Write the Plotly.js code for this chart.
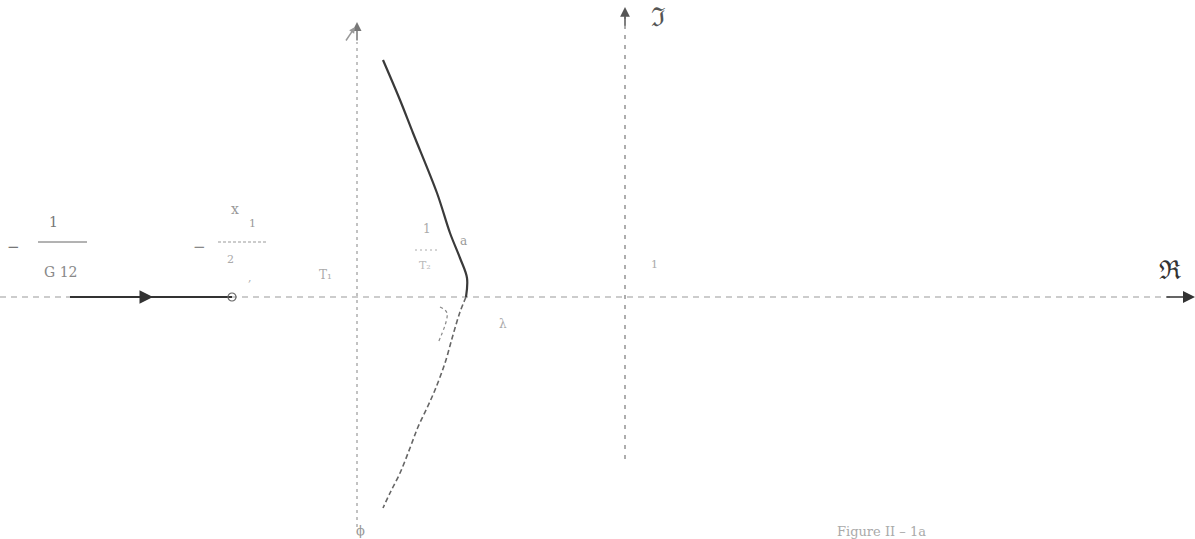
<!DOCTYPE html>
<html>
<head>
<meta charset="utf-8">
<script src="https://cdn.plot.ly/plotly-3.0.1.min.js"></script>
<style>html,body{margin:0;padding:0;background:#fff}#chart{width:1195px;height:539px}</style>
</head>
<body>
<div id="chart"></div>
<script>
// Nyquist-type locus (Re, Im units)
const upperRe = [-2.42, -2.25, -2.12, -1.88, -1.75, -1.65, -1.58, -1.59];
const upperIm = [ 2.37,  1.97,  1.64,  1.04,  0.64,  0.39,  0.19,  0.00];
const lowerRe = [-1.59, -1.65, -1.72, -1.80, -1.90, -1.98, -2.07, -2.15, -2.25, -2.35, -2.42];
const lowerIm = [ 0.00, -0.15, -0.38, -0.66, -0.93, -1.11, -1.30, -1.51, -1.76, -1.96, -2.11];
const innerRe = [-1.85, -1.78, -1.87];
const innerIm = [-0.10, -0.16, -0.46];
// axes and construction lines
const realAxisRe = [-6.25, 5.45];
const realAxisIm = [0, 0];
const imagAxisRe = [0, 0];
const imagAxisIm = [-1.62, 2.80];
const asymRe = [-2.68, -2.68];
const asymIm = [-2.30, 2.55];
const segRe = [-5.55, -3.93];
const segIm = [0, 0];
const pointRe = [-3.93];
const pointIm = [0];
// fraction bars of the labels
const bar1Re = [-5.87, -5.38];
const bar2Re = [-4.07, -3.57];
const bar3Re = [-2.10, -1.88];
const barIm = [0.55, 0.55, 0.47];

const ink = '#444';
const faint = '#9a9a9a';

const traces = [
  {x: realAxisRe, y: realAxisIm, mode: 'lines', line: {color: faint, width: 1.2, dash: '6px,5px'}},
  {x: segRe, y: segIm, mode: 'lines', line: {color: '#333', width: 2}},
  {x: pointRe, y: pointIm, mode: 'markers', marker: {symbol: 'circle-open', size: 8, color: '#666', line: {width: 1.2}}},
  {x: imagAxisRe, y: imagAxisIm, mode: 'lines', line: {color: '#777', width: 1.2, dash: '4px,6px'}},
  {x: asymRe, y: asymIm, mode: 'lines', line: {color: faint, width: 1.2, dash: '3px,4px'}},
  {x: upperRe, y: upperIm, mode: 'lines', line: {color: '#3a3a3a', width: 2.2, shape: 'spline'}},
  {x: lowerRe, y: lowerIm, mode: 'lines', line: {color: '#666', width: 1.6, dash: '5px,3px', shape: 'spline'}},
  {x: innerRe, y: innerIm, mode: 'lines', line: {color: '#888', width: 1.2, dash: '3px,3px', shape: 'spline'}},
  {x: bar1Re, y: [barIm[0], barIm[0]], mode: 'lines', line: {color: '#666', width: 1}},
  {x: bar2Re, y: [barIm[1], barIm[1]], mode: 'lines', line: {color: '#999', width: 1, dash: '3px,2px'}},
  {x: bar3Re, y: [barIm[2], barIm[2]], mode: 'lines', line: {color: '#aaa', width: 1, dash: '2px,3px'}}
];

function txt(x, y, t, size, color, extra) {
  return Object.assign({x: x, y: y, xref: 'x', yref: 'y', text: t, showarrow: false,
    font: {family: 'DejaVu Serif', size: size, color: color}}, extra || {});
}
function arrow(x, y, ax, ay, color, size) {
  return {x: x, y: y, ax: ax, ay: ay, xref: 'x', yref: 'y', axref: 'x', ayref: 'y', text: '',
    showarrow: true, arrowhead: 2, arrowsize: size, arrowwidth: 1.5, arrowcolor: color};
}

const annotations = [
  arrow(5.70, 0, 5.40, 0, '#333', 1.6),
  arrow(-4.72, 0, -4.95, 0, '#333', 1.8),
  arrow(0, 2.90, 0, 2.70, '#555', 1.3),
  arrow(-2.68, 2.75, -2.68, 2.55, '#777', 1.2),
  arrow(-2.70, 2.70, -2.80, 2.55, '#999', 0.8),
  txt(5.45, 0.27, 'ℜ', 26, '#333'),
  txt(0.33, 2.80, 'ℑ', 26, '#555'),
  txt(-6.12, 0.50, '−', 15, '#777'),
  txt(-5.72, 0.75, '1', 14, '#777'),
  txt(-5.65, 0.25, 'G 12', 14, '#888'),
  txt(-4.26, 0.50, '−', 15, '#888'),
  txt(-3.90, 0.88, 'x', 14, '#999'),
  txt(-3.73, 0.74, '1', 11, '#999'),
  txt(-3.95, 0.38, '2', 11, '#aaa'),
  txt(-3.75, 0.20, ',', 11, '#aaa'),
  txt(-3.00, 0.22, 'T₁', 12, '#aaa'),
  txt(-1.98, 0.68, '1', 12, '#aaa'),
  txt(-2.00, 0.32, 'T₂', 11, '#bbb'),
  txt(-1.62, 0.56, 'a', 12, '#999'),
  txt(-1.22, -0.27, 'λ', 12, '#aaa'),
  txt(0.29, 0.33, '1', 11, '#aaa'),
  txt(-2.65, -2.33, 'ϕ', 13, '#999'),
  txt(2.10, -2.34, 'Figure II – 1a', 13, '#aaa', {xanchor: 'left'})
];

const layout = {
  width: 1195, height: 539,
  margin: {l: 0, r: 0, t: 0, b: 0},
  paper_bgcolor: '#fff', plot_bgcolor: '#fff',
  showlegend: false,
  xaxis: {range: [-6.25, 5.70], visible: false, fixedrange: true},
  yaxis: {range: [-2.42, 2.97], visible: false, fixedrange: true},
  annotations: annotations
};

Plotly.newPlot('chart', traces, layout, {displayModeBar: false, staticPlot: true});
</script>
</body>
</html>
